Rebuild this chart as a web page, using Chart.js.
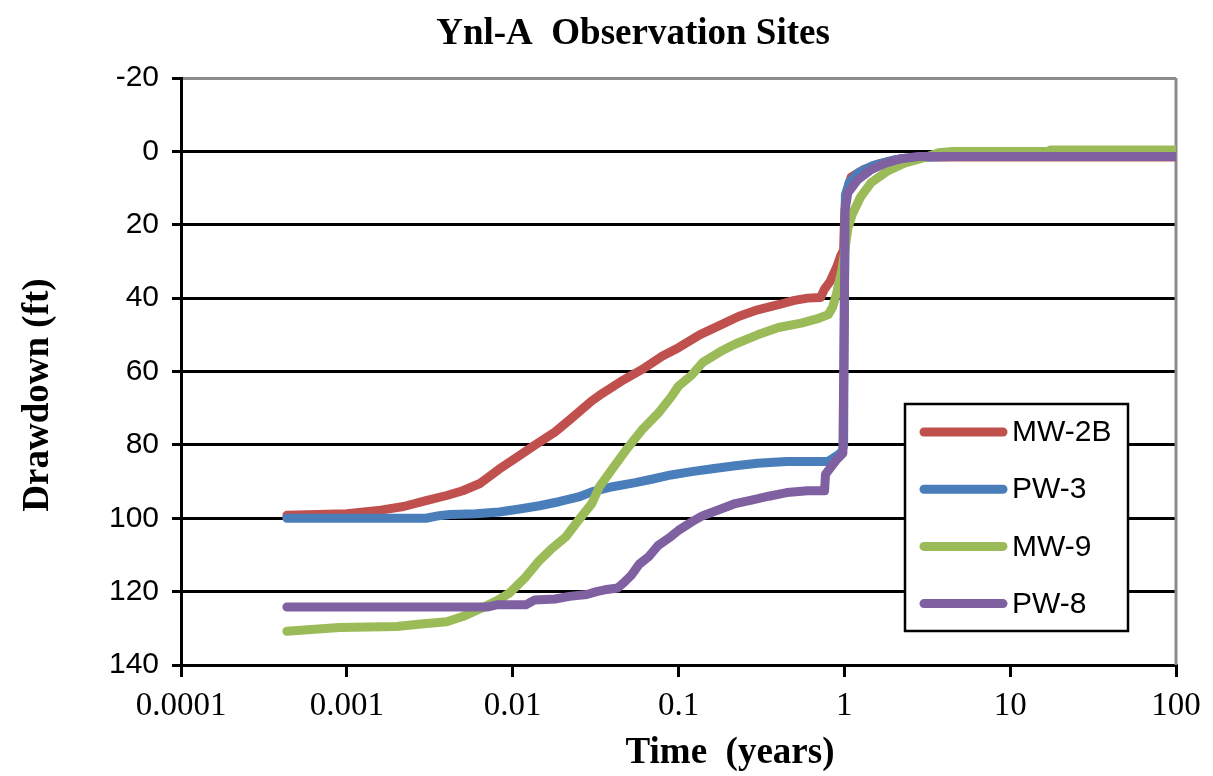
<!DOCTYPE html>
<html>
<head>
<meta charset="utf-8">
<script src="https://cdn.jsdelivr.net/npm/chart.js@4.4.1/dist/chart.umd.min.js"></script>
<style>
    body { margin: 0; background: #fff; }
    canvas { display: block; }
</style>
</head>
<body>
<canvas id="myChart" width="1213" height="776"></canvas>
<script>
// time in years, drawdown in ft
let mw2bTime = [0.000435, 0.001, 0.0016, 0.0022, 0.003, 0.004, 0.005, 0.0063, 0.0083, 0.0105, 0.0135, 0.018, 0.022, 0.03, 0.0334, 0.045, 0.06, 0.08, 0.1, 0.134, 0.18, 0.23, 0.3, 0.4, 0.5, 0.6, 0.72, 0.76, 0.82, 0.9, 0.95, 0.99, 1.0, 1.02, 1.1, 1.3, 1.6, 2.2, 3, 100];
let mw2bDrawdown = [99.2, 98.8, 97.8, 96.8, 95.2, 93.8, 92.5, 90.6, 86.6, 83.5, 80.2, 76.5, 73.2, 68, 66.5, 62.7, 59.5, 55.8, 53.5, 50, 47.3, 45, 43.2, 41.8, 40.6, 40, 39.8, 37.5, 35.5, 31.5, 28.5, 27, 20, 12, 7, 5, 3.5, 2, 1.5, 1.5];

let pw3Time = [0.000435, 0.003, 0.0036, 0.0042, 0.006, 0.0083, 0.011, 0.0145, 0.019, 0.025, 0.03, 0.04, 0.055, 0.07, 0.09, 0.12, 0.16, 0.22, 0.3, 0.45, 0.8, 0.9, 0.97, 0.99, 1.0, 1.015, 1.07, 1.2, 1.5, 2, 3, 5, 100];
let pw3Drawdown = [100, 100, 99.3, 99, 98.8, 98.3, 97.5, 96.6, 95.5, 94.2, 92.8, 91.4, 90.3, 89.3, 88.2, 87.3, 86.5, 85.7, 85, 84.5, 84.5, 83, 81.8, 80, 40, 12, 8.5, 6, 3.8, 2.3, 1.6, 1.3, 1.3];

let mw9Time = [0.000435, 0.0009, 0.002, 0.0028, 0.004, 0.005, 0.0065, 0.008, 0.0095, 0.012, 0.0145, 0.017, 0.021, 0.025, 0.03, 0.0334, 0.04, 0.05, 0.06, 0.075, 0.09, 0.1, 0.12, 0.14, 0.18, 0.22, 0.3, 0.4, 0.55, 0.7, 0.8, 0.85, 0.9, 0.97, 1.0, 1.05, 1.12, 1.25, 1.45, 1.8, 2.3, 3, 3.7, 4.5, 17, 17.5, 100];
let mw9Drawdown = [130.8, 129.8, 129.5, 128.8, 128.2, 126.8, 124.5, 122.5, 120.5, 116, 111.5, 108.5, 105, 100.5, 96, 91.4, 86.5, 80.5, 76, 71.5, 67, 64, 61, 57.5, 54.5, 52.5, 50, 48, 46.8, 45.5, 44.5, 42.5, 38.5, 32, 28, 21, 17, 12.5, 8.5, 5.5, 3.2, 1.8, 0.4, 0, 0, -0.4, -0.4];

let pw8Time = [0.000435, 0.007, 0.008, 0.012, 0.0135, 0.018, 0.022, 0.028, 0.032, 0.036, 0.043, 0.047, 0.052, 0.058, 0.066, 0.075, 0.09, 0.1, 0.12, 0.14, 0.18, 0.22, 0.28, 0.35, 0.45, 0.6, 0.76, 0.77, 0.9, 0.98, 1.0, 1.01, 1.05, 1.2, 1.45, 1.8, 2.2, 2.8, 100];
let pw8Drawdown = [124.2, 124.2, 123.6, 123.6, 122.3, 122, 121.3, 120.8, 120, 119.5, 119, 117.5, 115.5, 112.5, 110.5, 107.5, 105, 103.3, 101, 99.3, 97.5, 96, 95, 94, 93, 92.5, 92.5, 88, 84, 82.3, 45, 16, 11.3, 7.8, 5, 3.1, 2, 1.4, 1.4];

let seriesNames = ['MW-2B', 'PW-3', 'MW-9', 'PW-8'];
let xTickValues = [0.0001, 0.001, 0.01, 0.1, 1, 10, 100];
let xTickLabels = ['0.0001', '0.001', '0.01', '0.1', '1', '10', '100'];
let yTickValues = [-20, 0, 20, 40, 60, 80, 100, 120, 140];

let colors = ['#C0504D', '#4A7EBB', '#9BBB59', '#7F60A0'];

function toPoints(t, d)
{
    return t.map((v, i) => ({ x: v, y: d[i] }));
}

let allSeries = [
    toPoints(mw2bTime, mw2bDrawdown),
    toPoints(pw3Time, pw3Drawdown),
    toPoints(mw9Time, mw9Drawdown),
    toPoints(pw8Time, pw8Drawdown)
];

let datasets = allSeries.map((pts, i) => ({
    label: seriesNames[i],
    data: pts,
    borderColor: colors[i],
    backgroundColor: colors[i],
    borderWidth: 9,
    borderCapStyle: 'round',
    borderJoinStyle: 'round',
    pointRadius: 0,
    tension: 0,
    // later series drawn on top, like the original
    order: seriesNames.length - 1 - i
}));

// titles, right frame line and the boxed legend inside the plot
let extras = {
    id: 'extras',
    beforeDatasetsDraw(chart) {
        let ctx = chart.ctx;
        let a = chart.chartArea;
        ctx.save();
        ctx.strokeStyle = '#8c8c8c';
        ctx.lineWidth = 3;
        ctx.beginPath();
        ctx.moveTo(a.right, a.top);
        ctx.lineTo(a.right, a.bottom);
        ctx.stroke();
        ctx.restore();
    },
    afterDraw(chart) {
        let ctx = chart.ctx;
        ctx.save();
        ctx.fillStyle = '#000';
        ctx.textAlign = 'center';
        ctx.textBaseline = 'alphabetic';
        ctx.font = 'bold 37px "Liberation Serif"';
        ctx.fillText('Ynl-A  Observation Sites', 633, 44);
        ctx.fillText('Time  (years)', 730, 763);

        ctx.save();
        ctx.translate(48, 395);
        ctx.rotate(-Math.PI / 2);
        ctx.fillText('Drawdown (ft)', 0, 0);
        ctx.restore();

        // legend box
        let bx = 905, by = 404, bw = 223, bh = 227;
        ctx.fillStyle = '#fff';
        ctx.fillRect(bx, by, bw, bh);
        ctx.strokeStyle = '#000';
        ctx.lineWidth = 2.5;
        ctx.strokeRect(bx, by, bw, bh);

        ctx.font = '30px "Liberation Sans"';
        ctx.textAlign = 'left';
        ctx.textBaseline = 'middle';
        chart.data.datasets.forEach((ds, i) => {
            let y = 432 + i * 57.2;
            ctx.strokeStyle = ds.borderColor;
            ctx.lineWidth = 9;
            ctx.lineCap = 'round';
            ctx.beginPath();
            ctx.moveTo(924, y);
            ctx.lineTo(1003, y);
            ctx.stroke();
            ctx.fillStyle = '#000';
            ctx.fillText(ds.label, 1012, y + 1);
        });
        ctx.restore();
    }
};

let config = {
    type: 'line',
    data: { datasets: datasets },
    options: {
        responsive: false,
        animation: false,
        devicePixelRatio: 1,
        layout: {
            padding: { top: 78, right: 37, left: 0, bottom: 0 }
        },
        plugins: {
            legend: { display: false },
            title: { display: false },
            tooltip: { enabled: false }
        },
        scales: {
            x: {
                type: 'logarithmic',
                min: 0.0001,
                max: 100,
                afterBuildTicks: (axis) => {
                    axis.ticks = xTickValues.map(v => ({ value: v }));
                },
                afterFit: (axis) => {
                    axis.height = 111;
                },
                ticks: {
                    autoSkip: false,
                    maxRotation: 0,
                    padding: 10,
                    color: '#000',
                    font: { family: 'Liberation Serif', size: 33 },
                    callback: (value, index) => xTickLabels[index]
                },
                grid: {
                    drawOnChartArea: false,
                    drawTicks: true,
                    tickLength: 12,
                    color: '#000',
                    lineWidth: 3
                },
                border: { display: true, color: '#000', width: 3 }
            },
            y: {
                type: 'linear',
                reverse: true,
                min: -20,
                max: 140,
                afterBuildTicks: (axis) => {
                    axis.ticks = yTickValues.map(v => ({ value: v }));
                },
                afterFit: (axis) => {
                    axis.width = 181;
                },
                ticks: {
                    padding: 13,
                    color: '#000',
                    font: { family: 'Liberation Sans', size: 30 }
                },
                grid: {
                    drawTicks: true,
                    tickLength: 9,
                    lineWidth: 3,
                    color: (c) => (c.tick && c.tick.value === -20) ? '#8c8c8c' : '#000',
                    tickColor: '#000'
                },
                border: { display: true, color: '#000', width: 3 }
            }
        }
    },
    plugins: [extras]
};

let mychart = new Chart(document.getElementById('myChart'), config);
</script>
</body>
</html>
